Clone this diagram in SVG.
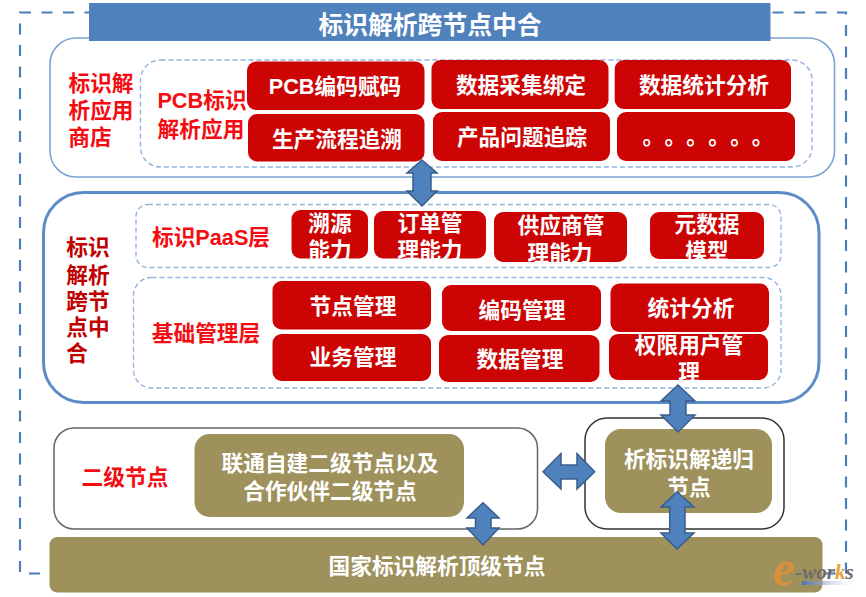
<svg xmlns="http://www.w3.org/2000/svg" width="866" height="597" viewBox="0 0 866 597">
<defs>
<linearGradient id="wmBar" x1="0" x2="1" y1="0" y2="0"><stop offset="0" stop-color="#4f6fb0"/><stop offset="1" stop-color="#ffffff" stop-opacity="0.2"/></linearGradient>
</defs>
<style>
text{font-family:"Liberation Sans","Noto Sans CJK SC",sans-serif;font-weight:700;font-size:21.7px;text-anchor:middle;dominant-baseline:central}
.red{fill:#cc0404}
.tan{fill:#9e915c}
.w{fill:#fff}
.lbl{fill:#f40c12}
.dk{fill:#c00000}
.panel{fill:#fff;stroke:#7ba3d4;stroke-width:1.6}
.dash{fill:none;stroke:#8fb4dd;stroke-width:1.4;stroke-dasharray:5 3}
.box{fill:#fff;stroke-width:1.5}
.arr{fill:#4f81bd;stroke:#385d8a;stroke-width:1.5}
</style>
<rect id="frame" x="20" y="12.5" width="826" height="561" fill="none" stroke="#4a7ebb" stroke-width="2.2" stroke-dasharray="11 10.5"/>

<g id="app-store">
<rect class="panel" x="50" y="38" width="784.5" height="139" rx="26"/>
<rect class="dash" x="140.5" y="60" width="671.5" height="107" rx="20"/>
<text class="lbl" x="101" y="83">标识解</text>
<text class="lbl" x="101" y="110">析应用</text>
<text class="lbl" x="90" y="137">商店</text>
<text class="lbl" x="202" y="100">PCB标识</text>
<text class="lbl" x="201" y="129">解析应用</text>
</g>
<g id="title"><rect x="89" y="3" width="681.5" height="38" fill="#4f81bd"/><text class="w" x="430" y="25" style="font-size:24.8px">标识解析跨节点中合</text></g>
<g id="n-pcb"><rect class="red" x="247" y="61.5" width="177.5" height="48.5" rx="9"/><text class="w" x="335" y="86">PCB编码赋码</text></g>
<g id="n-trace"><rect class="red" x="248" y="114" width="176.5" height="47.5" rx="9"/><text class="w" x="337" y="139">生产流程追溯</text></g>
<g id="n-collect"><rect class="red" x="431.5" y="60" width="177" height="49" rx="9"/><text class="w" x="521" y="85">数据采集绑定</text></g>
<g id="n-problem"><rect class="red" x="433" y="112" width="177" height="49" rx="9"/><text class="w" x="522" y="137">产品问题追踪</text></g>
<g id="n-stat"><rect class="red" x="614.7" y="60" width="176.3" height="49" rx="9"/><text class="w" x="704" y="85">数据统计分析</text></g>
<g id="n-more"><rect class="red" x="617" y="112" width="178" height="49" rx="9"/><text class="w" x="653.3 675.3 697 719 741 762.7" y="136">。。。。。。</text></g>

<g id="platform">
<rect class="panel" x="43.5" y="192.5" width="775.5" height="210" rx="40" style="stroke:#5b8cc6;stroke-width:3"/>
<rect class="dash" x="136" y="204.5" width="645" height="63" rx="12"/>
<rect class="dash" x="133.5" y="277.5" width="647.5" height="110.5" rx="18"/>
<text class="dk" x="88" y="247">标识</text>
<text class="dk" x="88" y="275">解析</text>
<text class="dk" x="88" y="301">跨节</text>
<text class="dk" x="88" y="327">点中</text>
<text class="dk" x="77" y="353">合</text>
<text class="lbl" x="211" y="237">标识PaaS层</text>
<text class="lbl" x="206" y="333">基础管理层</text>
</g>
<g id="n-trace-cap"><rect class="red" x="291.5" y="210" width="76.5" height="48.5" rx="9"/><text class="w" x="330" y="223">溯源</text><text class="w" x="330" y="250">能力</text></g>
<g id="n-order"><rect class="red" x="374" y="211" width="112" height="47.5" rx="9"/><text class="w" x="430" y="223">订单管</text><text class="w" x="430" y="250">理能力</text></g>
<g id="n-supplier"><rect class="red" x="494" y="212" width="133" height="50" rx="9"/><text class="w" x="561" y="225">供应商管</text><text class="w" x="560" y="253">理能力</text></g>
<g id="n-meta"><rect class="red" x="650" y="212" width="114" height="47" rx="9"/><text class="w" x="707" y="224">元数据</text><text class="w" x="707" y="251">模型</text></g>
<g id="n-node"><rect class="red" x="272.5" y="281" width="158.5" height="48.5" rx="9"/><text class="w" x="353" y="306">节点管理</text></g>
<g id="n-biz"><rect class="red" x="272.5" y="334" width="158.5" height="47" rx="9"/><text class="w" x="353" y="357">业务管理</text></g>
<g id="n-code"><rect class="red" x="442" y="285" width="159" height="46" rx="9"/><text class="w" x="522" y="310">编码管理</text></g>
<g id="n-data"><rect class="red" x="439" y="335" width="160.5" height="47" rx="9"/><text class="w" x="520" y="359">数据管理</text></g>
<g id="n-analysis"><rect class="red" x="610.5" y="283.5" width="158.5" height="48.5" rx="9"/><text class="w" x="691" y="308">统计分析</text></g>
<g id="n-auth"><rect class="red" x="609" y="334" width="159" height="46" rx="9"/><text class="w" x="689" y="345">权限用户管</text><text class="w" x="689" y="372">理</text></g>

<g id="second-level">
<rect class="box" x="54" y="428" width="483.5" height="101" rx="20" stroke="#666"/>
<text class="lbl" x="125" y="477">二级节点</text>
<rect class="tan" x="194.5" y="434" width="269.5" height="83" rx="15"/>
<text class="w" x="330" y="463">联通自建二级节点以及</text>
<text class="w" x="330" y="491">合作伙伴二级节点</text>
</g>
<g id="recursive">
<rect class="box" x="585" y="418" width="199" height="111" rx="22" stroke="#333"/>
<rect class="tan" x="605" y="429" width="167" height="84" rx="16"/>
<text class="w" x="689" y="459">析标识解递归</text>
<text class="w" x="689" y="487">节点</text>
</g>
<g id="top-level">
<rect class="tan" x="49.5" y="537" width="773" height="55.5" rx="8"/>
<text class="w" x="437" y="566">国家标识解析顶级节点</text>
</g>

<g id="connectors">
<polygon class="arr" points="422,160 437,173 431,173 431,191 437,191 422,206 407,191 413,191 413,173 407,173"/>
<polygon class="arr" points="678,385 695,401 686,401 686,415 695,415 678,432 661,415 670,415 670,401 661,401"/>
<polygon class="arr" points="543,471.7 561,453.5 561,465 577,465 577,453.5 594.7,471.7 577,489 577,479 561,479 561,489"/>
<polygon class="arr" points="483,502.7 499,518 491,518 491,528 499,528 483,545 467,528 475.5,528 475.5,518 467,518"/>
<polygon class="arr" points="677,491.7 694,507 685,507 685,533 694,533 677,549 661,533 669.7,533 669.7,507 661,507"/>
</g>

<g id="watermark">
<rect x="802" y="581" width="52" height="4" fill="url(#wmBar)"/>
<text x="773" y="585" style="font-family:'Liberation Serif',serif;font-style:italic;font-size:21px;fill:#6b6b6b;text-anchor:start;dominant-baseline:alphabetic"><tspan style="font-size:50px;fill:#d9903a">e</tspan><tspan dy="-6">-wor</tspan><tspan fill="#e8a33a">k</tspan><tspan>s</tspan></text>
</g>
</svg>
